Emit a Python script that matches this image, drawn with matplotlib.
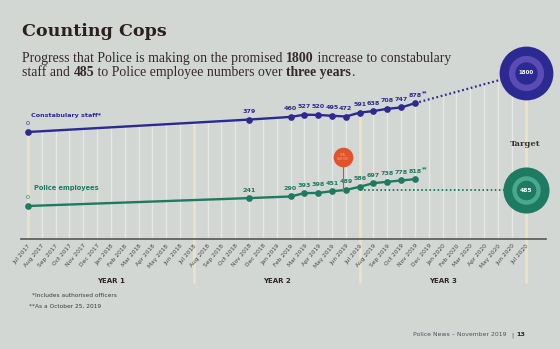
import numpy as np
import matplotlib
matplotlib.use("Agg")
from matplotlib import pyplot as plt
from matplotlib.transforms import blended_transform_factory

# month axis, Jul 2017 .. Jul 2020
months = ['Jul 2017', 'Aug 2017', 'Sep 2017', 'Oct 2017', 'Nov 2017', 'Dec 2017',
          'Jan 2018', 'Feb 2018', 'Mar 2018', 'Apr 2018', 'May 2018', 'Jun 2018',
          'Jul 2018', 'Aug 2018', 'Sep 2018', 'Oct 2018', 'Nov 2018', 'Dec 2018',
          'Jan 2019', 'Feb 2019', 'Mar 2019', 'Apr 2019', 'May 2019', 'Jun 2019',
          'Jul 2019', 'Aug 2019', 'Sep 2019', 'Oct 2019', 'Nov 2019', 'Dec 2019',
          'Jan 2020', 'Feb 2020', 'Mar 2020', 'Apr 2020', 'May 2020', 'Jun 2020',
          'Jul 2020']
years = ['YEAR 1', 'YEAR 2', 'YEAR 3']

data_months = ['Jul 2017', 'Nov 2018', 'Feb 2019', 'Mar 2019', 'Apr 2019', 'May 2019',
               'Jun 2019', 'Jul 2019', 'Aug 2019', 'Sep 2019', 'Oct 2019', 'Nov 2019']
constab = [0, 379, 460, 527, 520, 495, 472, 591, 638, 708, 747, 878]
employees = [0, 241, 290, 393, 398, 451, 489, 586, 697, 738, 778, 818]
constab_target = 1800
employees_target = 485
target_month = 'Jul 2020'
goal_month = 22.8  # where employees passed 485

blue = '#2b2a92'
blue2 = '#5a4cb4'
teal = '#1f7a62'
teal2 = '#4ba98b'
bg = '#d2d7d4'

xi = [months.index(m) for m in data_months]
xt = months.index(target_month)

fig = plt.figure(figsize=(5.6, 3.49), dpi=100)
fig.patch.set_facecolor(bg)

W, H = 560.0, 349.0
step = 13.82
x0px = 28.0
left = x0px - 0.5 * step
ax = fig.add_axes([left / W, (H - 239) / H, 38 * step / W, (239 - 40) / H])
ax.set_facecolor('none')
ax.set_xlim(-0.5, 37.5)
k = 0.0328  # px per unit
ax.set_ylim(-33 / k, (206 - 40) / k)
ax2 = ax.twinx()
ax2.set_ylim(-107 / k, (132 - 40) / k)
ax2.set_zorder(1)
ax.set_zorder(2)
for a in (ax, ax2):
    for s in ['top', 'right', 'left']:
        a.spines[s].set_visible(False)
    a.set_yticks([])
ax2.spines['bottom'].set_visible(False)
ax.spines['bottom'].set_color('#5a5558')
ax.spines['bottom'].set_linewidth(1.2)

# vertical month lines up to the constabulary line / projection
line_x = xi + [xt]
line_y = constab + [constab_target]
tops = np.interp(np.arange(len(months)), line_x, line_y)
ybot = ax2.get_ylim()[0]
for i, t in enumerate(tops):
    if i % 12 == 0:
        low = ybot - 44 / k if i > 0 else ybot
        ax2.plot([i, i], [low, t], color='#ede2c6', lw=2, zorder=1,
                 clip_on=False, solid_capstyle='butt')
    else:
        ax2.plot([i, i], [ybot, t], color='#e6e8e5', lw=1, zorder=1,
                 solid_capstyle='butt')


def value_labels(a, xs, vals, col):
    for x, v in zip(xs[1:], vals[1:]):
        t = a.annotate(str(v), (x, v), xytext=(0, 4), textcoords='offset points',
                       ha='center', va='bottom', fontsize=4.6, color=col,
                       fontweight='bold')
        if x == xs[-1]:
            a.annotate('**', xy=(1, 0.55), xycoords=t, ha='left', va='bottom',
                       fontsize=3.8, color=col, fontweight='bold')
    a.annotate(str(vals[0]), (xs[0], vals[0]), xytext=(0, 4),
               textcoords='offset points', ha='center', va='bottom',
               fontsize=4.6, color=col)


# constabulary
ax2.plot(xi, constab, color=blue, lw=1.7, marker='o', ms=3.8, zorder=4)
ax2.plot([xi[-1], xt], [constab[-1], constab_target], color=blue, lw=1.6,
         ls=(0, (0.8, 1.2)), zorder=3)
value_labels(ax2, xi, constab, blue)
ax2.scatter([xt], [constab_target], s=1500, color=blue, zorder=6, clip_on=False, lw=0)
ax2.scatter([xt], [constab_target], s=640, color=blue2, zorder=7, clip_on=False, lw=0)
ax2.scatter([xt], [constab_target], s=260, color=blue, zorder=8, clip_on=False, lw=0)
ax2.text(xt, constab_target, str(constab_target), color='white', fontsize=4,
         ha='center', va='center', zorder=9, fontweight='bold')

# police employees
ax.plot(xi, employees, color=teal, lw=1.7, marker='o', ms=3.8, zorder=4)
ax.plot([months.index('Jul 2019'), xt], [employees_target, employees_target],
        color=teal, lw=1.4, ls=(0, (0.8, 1.3)), zorder=3)
value_labels(ax, xi, employees, teal)
ax.scatter([xt], [employees_target], s=1100, color=teal, zorder=6, clip_on=False, lw=0)
ax.scatter([xt], [employees_target], s=420, color=teal2, zorder=7, clip_on=False, lw=0)
ax.scatter([xt], [employees_target], s=200, color=teal, zorder=8, clip_on=False, lw=0)
ax.text(xt, employees_target, str(employees_target), color='white', fontsize=4.3,
        ha='center', va='center', zorder=9, fontweight='bold')
ax.text(xt, employees_target + 46 / k, 'Target', color='#3a3236', fontsize=6,
        ha='center', va='center', fontweight='bold', family='DejaVu Serif', zorder=9)

# goal reached pin
pin_y = employees_target + 33 / k
ax.plot([goal_month, goal_month], [employees_target, pin_y], color='#e0502a', lw=0.8, zorder=5)
ax.scatter([goal_month], [pin_y], s=200, color='#e4522b', zorder=6, lw=0)
ax.text(goal_month, pin_y, 'GOAL\nREACHED', color='#f2a58a', fontsize=1.8,
        ha='center', va='center', zorder=7, linespacing=1.0)

# series names
fig.text(31 / W, 1 - 117 / H, 'Constabulary staff*', color=blue, fontsize=4.6,
         fontweight='bold', va='baseline')
fig.text(34 / W, 1 - 190 / H, 'Police employees', color=teal, fontsize=4.8,
         fontweight='bold', va='baseline')

# x labels
ax.set_xticks(range(len(months)))
ax.set_xticklabels(months, rotation=50, ha='right', rotation_mode='anchor',
                   fontsize=4.2, color='#4a4648')
ax.tick_params(axis='x', length=0, pad=3)
yr_tr = blended_transform_factory(ax.transData, fig.transFigure)
for j, y in enumerate(years):
    ax.text(6 + 12 * j, 1 - 281 / H, y, transform=yr_tr, ha='center', va='center',
            fontsize=5, fontweight='bold', color='#2e2428')

# title and intro
fig.text(22 / W, 1 - 36 / H, 'Counting Cops', fontsize=12.6, fontweight='bold',
         family='DejaVu Serif', color='#2a201e', va='baseline')


def intro_line(parts, x, y):
    size = 9.9
    prev = fig.text(x, y, parts[0][0], fontsize=size, family='Liberation Serif',
                    color='#332a2a', va='baseline',
                    fontweight='bold' if parts[0][1] else 'normal')
    for txt, bold in parts[1:]:
        prev = ax.annotate(txt, xy=(1, 0), xycoords=prev, va='bottom', ha='left',
                           fontsize=size, family='Liberation Serif', color='#332a2a',
                           annotation_clip=False,
                           fontweight='bold' if bold else 'normal')
    return prev


intro_line([('Progress that Police is making on the promised ', False), ('1800', True),
            (' increase to constabulary', False)], 22 / W, 1 - 62 / H)
intro_line([('staff and ', False), ('485', True), (' to Police employee numbers over ', False),
            ('three years', True), ('.', False)], 22 / W, 1 - 76 / H)

# footnotes
fig.text(32 / W, 1 - 297 / H, '*Includes authorised officers', fontsize=4.2,
         color='#3e3a3c', va='baseline')
fig.text(29 / W, 1 - 308 / H, '**As a October 25, 2019', fontsize=4.2,
         color='#3e3a3c', va='baseline')
fig.text(413 / W, 1 - 336 / H, 'Police News \u2013 November 2019', fontsize=4.4,
         color='#55505a', va='baseline')
fig.text(511 / W, 1 - 336 / H, '|', fontsize=4.6, color='#55505a', va='baseline')
fig.text(516 / W, 1 - 336 / H, '13', fontsize=4.6, color='#2a2428', va='baseline',
         fontweight='bold')

fig.savefig('out.png', dpi=100, facecolor=bg)
